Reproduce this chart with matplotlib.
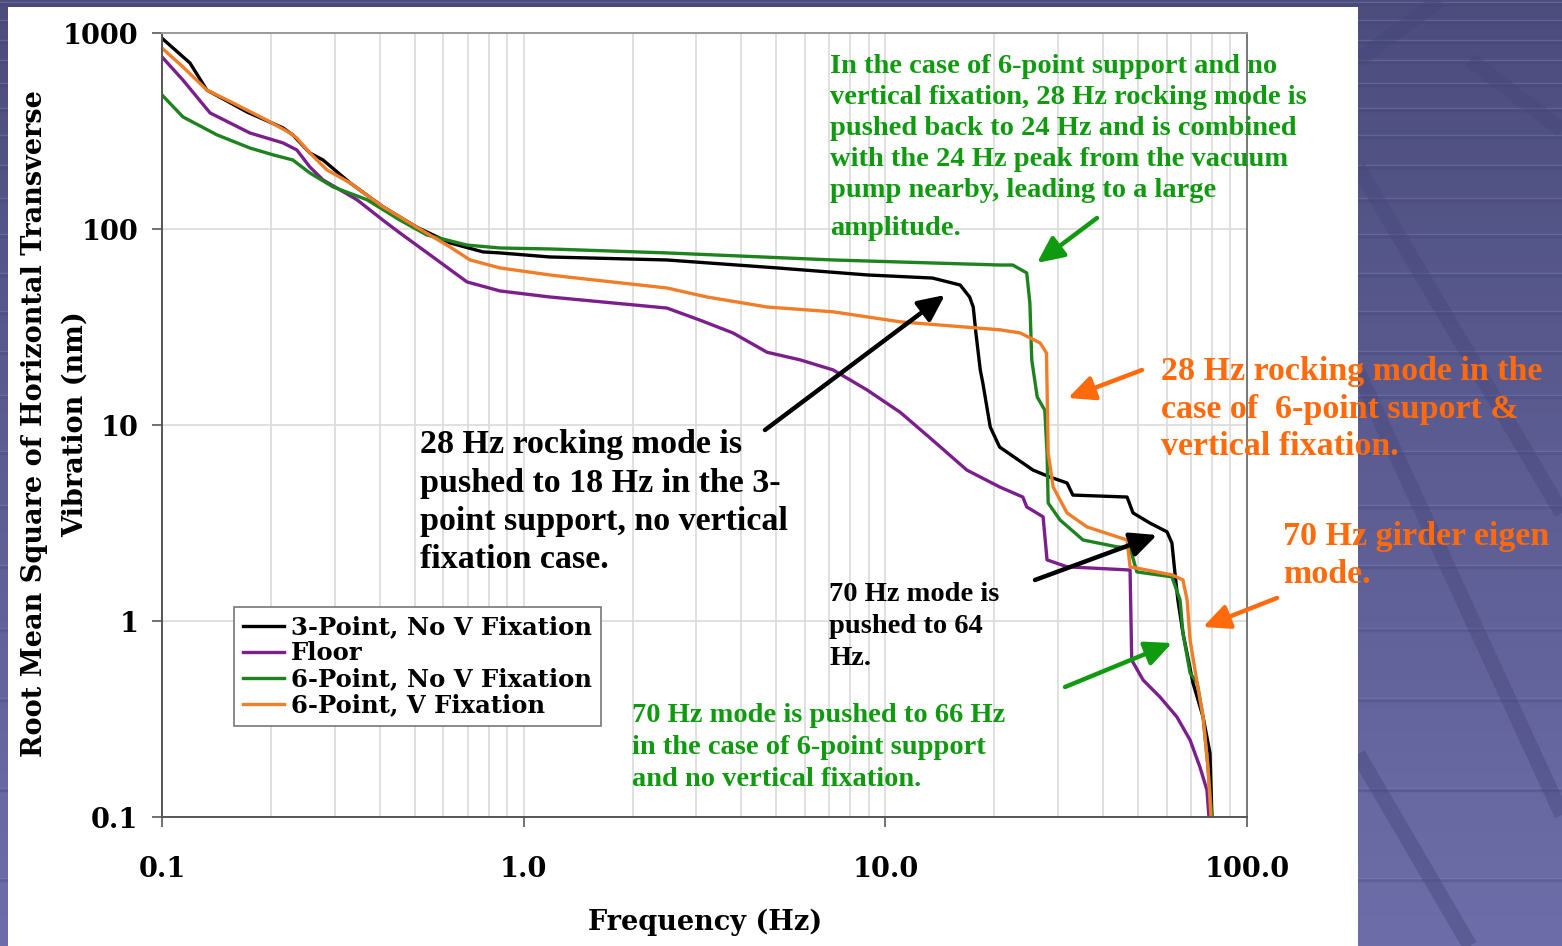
import numpy as np
import matplotlib.pyplot as plt
from matplotlib.colors import LinearSegmentedColormap
from matplotlib.patches import Rectangle, FancyArrowPatch, ArrowStyle
from matplotlib.ticker import FixedLocator, FixedFormatter, LogLocator, NullFormatter

W, H = 1562, 946

# ---- data (frequency in Hz, amplitude in nm) ----
black_f = [0.1, 0.1195, 0.133, 0.172, 0.216, 0.230, 0.2565, 0.2787, 0.331, 0.408,
           0.507, 0.626, 0.772, 0.86, 1.18, 2.49, 5.02, 8.9, 13.5, 16.1,
           17.1, 17.5, 17.8, 18.3, 18.6, 19.5, 20.7, 25.6, 28.5, 31.8,
           33.0, 46.6, 48.4, 53.9, 60.1, 62.0, 63.2, 64.4, 66.5, 70.9,
           75.6, 79.0, 80.0]
black_v = [940, 703, 512, 395, 328, 302, 244, 225, 172, 130,
           102, 84.9, 76.4, 75.5, 72.0, 69.5, 63.3, 58.3, 56.2, 51.8,
           45.0, 40.0, 29.5, 19.1, 16.4, 9.77, 7.72, 5.89, 5.43, 5.06,
           4.39, 4.29, 3.56, 3.16, 2.85, 2.50, 1.76, 1.28, 0.869, 0.483,
           0.324, 0.212, 0.1]

purple_f = [0.1, 0.1143, 0.1358, 0.175, 0.216, 0.236, 0.2565, 0.2787, 0.346, 0.408,
            0.455, 0.561, 0.697, 0.86, 1.18, 2.49, 3.07, 3.79, 4.71, 5.81,
            7.17, 8.9, 11.0, 13.5, 16.8, 20.7, 24.0, 24.6, 27.3, 28.0,
            31.8, 47.5, 48.0, 51.6, 57.5, 64.0, 69.6, 74.1, 77.5, 78.5]
purple_v = [755, 575, 391, 309, 275, 253, 207, 178, 141, 111,
            95.4, 72.0, 53.7, 48.3, 45.0, 39.5, 34.3, 29.5, 23.5, 21.5,
            19.1, 15.1, 11.6, 8.38, 5.89, 4.83, 4.29, 3.82, 3.40, 2.05,
            1.89, 1.82, 0.632, 0.50, 0.409, 0.324, 0.247, 0.180, 0.137, 0.1]

green_f = [0.1, 0.1143, 0.142, 0.175, 0.2027, 0.230, 0.2565, 0.297, 0.369, 0.455,
           0.540, 0.697, 0.86, 1.18, 2.49, 7.17, 20.7, 22.5, 24.6, 25.1,
           25.4, 26.3, 27.6, 28.0, 28.2, 30.4, 35.2, 43.7, 47.5, 49.6,
           62.0, 65.3, 66.5, 69.6, 72.8, 75.6, 78.0, 80.0]
green_v = [483, 373, 302, 259, 239, 225, 193, 164, 141, 111,
           93.2, 82.8, 80.0, 79.1, 75.5, 69.5, 65.5, 65.5, 59.7, 41.9,
           21.5, 13.9, 11.9, 7.19, 4.0, 3.28, 2.59, 2.39, 2.36, 1.78,
           1.68, 1.28, 0.869, 0.543, 0.483, 0.324, 0.180, 0.1]

orange_f = [0.1, 0.1143, 0.133, 0.157, 0.195, 0.226, 0.236, 0.2565, 0.286, 0.331,
            0.408, 0.507, 0.626, 0.711, 0.86, 1.18, 1.32, 2.49, 3.21, 4.71,
            7.17, 11.0, 20.7, 23.6, 26.8, 27.9, 28.1, 28.2, 29.1, 31.8,
            36.1, 46.6, 47.5, 62.0, 66.5, 68.3, 69.6, 72.8, 75.6, 78.0,
            79.5]
orange_v = [838, 671, 512, 440, 359, 309, 291, 244, 200, 172,
            130, 102, 80.9, 69.5, 63.3, 58.3, 56.9, 50.0, 45.0, 40.0,
            37.8, 33.6, 30.6, 29.5, 26.2, 23.3, 10.6, 7.19, 4.83, 3.56,
            3.02, 2.59, 1.89, 1.72, 1.62, 1.28, 0.80, 0.483, 0.324, 0.180,
            0.1]

series_labels = ['3-Point, No V Fixation', 'Floor', '6-Point, No V Fixation', '6-Point, V Fixation']
series_colors = ['#000000', '#7b1f8c', '#1e821e', '#f07d27']

x_ticks = [0.1, 1, 10, 100]
x_tick_labels = ['0.1', '1.0', '10.0', '100.0']
y_ticks = [0.1, 1, 10, 100, 1000]
y_tick_labels = ['0.1', '1', '10', '100', '1000']

TXT_GREEN = '#109a10'
TXT_ORANGE = '#ff6a0d'


def fx(x):
    return x / W


def fy(y):
    return 1 - y / H


fig = plt.figure(figsize=(W / 100, H / 100), dpi=100)

# ---- slide background ----
bg = fig.add_axes([0, 0, 1, 1], zorder=-5)
cmap = LinearSegmentedColormap.from_list('slide', ['#4c4d7d', '#6d6da9'])
bg.imshow(np.linspace(0, 1, 256)[:, None], extent=[0, W, H, 0], aspect='auto', cmap=cmap, zorder=0)
for y in [4, 22, 42, 62, 85, 110, 137, 167, 200, 236, 275, 313, 353, 397, 453, 507, 567, 630, 700, 790, 880]:
    bg.plot([0, W], [y, y], color='#3f3f70', lw=2.5, alpha=0.25, zorder=1)
    bg.plot([0, W], [y - 2, y - 2], color='#8a8ac4', lw=1, alpha=0.35, zorder=1)
for (x0, y0, x1, y1) in [(1358, 167, 1562, 513), (1358, 372, 1562, 815),
                         (1358, 754, 1470, 946), (1440, 0, 1358, 60), (1470, 60, 1562, 130)]:
    bg.plot([x0, x1], [y0, y1], color='#45457a', lw=11, alpha=0.4, solid_capstyle='butt', zorder=1)
bg.add_patch(Rectangle((8, 7), 1350, H, facecolor='white', edgecolor='none', zorder=5))
bg.set_xlim(0, W)
bg.set_ylim(H, 0)
bg.axis('off')

# ---- chart ----
ax = fig.add_axes([fx(162), fy(817), (1247 - 162) / W, (817 - 33) / H])
ax.set_facecolor('white')
for f, v, lab, col in zip([black_f, purple_f, green_f, orange_f],
                          [black_v, purple_v, green_v, orange_v],
                          series_labels, series_colors):
    ax.plot(f, v, color=col, lw=2.4, label=lab)

ax.set_xscale('log')
ax.set_yscale('log')
ax.set_xlim(0.1, 100)
ax.set_ylim(0.1, 1000)

ax.xaxis.set_major_locator(FixedLocator(x_ticks))
ax.xaxis.set_major_formatter(FixedFormatter(x_tick_labels))
ax.xaxis.set_minor_locator(LogLocator(base=10, subs=range(2, 10)))
ax.xaxis.set_minor_formatter(NullFormatter())
ax.yaxis.set_major_locator(FixedLocator(y_ticks))
ax.yaxis.set_major_formatter(FixedFormatter(y_tick_labels))
ax.yaxis.set_minor_locator(FixedLocator([]))

ax.grid(which='both', axis='x', color='#dadada', lw=1.2)
ax.grid(which='major', axis='y', color='#dadada', lw=1.2)
ax.set_axisbelow(True)

ax.tick_params(which='major', direction='out', length=7, width=1.3, color='#666666')
ax.tick_params(which='minor', length=0)
ax.tick_params(axis='x', pad=21)
ax.tick_params(axis='y', pad=10)
for lab in ax.get_xticklabels() + ax.get_yticklabels():
    lab.set_fontfamily('DejaVu Serif')
    lab.set_fontweight('bold')
    lab.set_fontsize(19.5)

ax.spines['left'].set_color('#555555')
ax.spines['bottom'].set_color('#555555')
ax.spines['top'].set_color('#999999')
ax.spines['right'].set_color('#777777')
for s in ax.spines.values():
    s.set_linewidth(1.4)

leg = ax.legend(loc='upper left', bbox_to_anchor=(fx(234), fy(607)), bbox_transform=fig.transFigure,
                prop=dict(family='DejaVu Serif', weight='bold', size=17.5), frameon=True,
                fancybox=False, edgecolor='#777777', framealpha=1, borderaxespad=0,
                borderpad=0.35, labelspacing=0.08, handlelength=1.7, handletextpad=0.3)
leg.get_frame().set_linewidth(1.2)

# axis titles
lab_font = dict(family='DejaVu Serif', weight='bold', size=19.5)
fig.text(fx(705), fy(922), 'Frequency (Hz)', ha='center', va='center', **lab_font)
fig.text(fx(35), fy(424), 'Root Mean Square of Horizontal Transverse', rotation=90,
         ha='center', va='center', **lab_font)
fig.text(fx(75), fy(424), 'Vibration (nm)', rotation=90, ha='center', va='center', **lab_font)


# ---- annotations ----
def note(x, y0, step, lines, color, size):
    for i, line in enumerate(lines):
        fig.text(fx(x), fy(y0 + i * step), line, ha='left', va='baseline', color=color,
                 family='Liberation Serif', weight='bold', fontsize=size)


def arrow(x0, y0, x1, y1, color):
    st = ArrowStyle('-|>', head_length=16, head_width=7.5)
    fig.add_artist(FancyArrowPatch((fx(x0), fy(y0)), (fx(x1), fy(y1)), transform=fig.transFigure,
                                   arrowstyle=st, mutation_scale=1, lw=3.2, color=color,
                                   shrinkA=0, shrinkB=0))


note(830, 73, 31, ['In the case of 6-point support and no',
                   'vertical fixation, 28 Hz rocking mode is',
                   'pushed back to 24 Hz and is combined',
                   'with the 24 Hz peak from the vacuum',
                   'pump nearby, leading to a large'], TXT_GREEN, 20.5)
note(830, 235, 0, ['amplitude.'], TXT_GREEN, 20.5)

note(420, 453, 38.5, ['28 Hz rocking mode is',
                      'pushed to 18 Hz in the 3-',
                      'point support, no vertical',
                      'fixation case.'], 'black', 24.5)

note(1161, 380, 37.5, ['28 Hz rocking mode in the',
                       'case of  6-point suport &',
                       'vertical fixation.'], TXT_ORANGE, 24.5)

note(1283, 545, 37.5, ['70 Hz girder eigen', 'mode.'], TXT_ORANGE, 24.5)

note(829, 601, 32, ['70 Hz mode is', 'pushed to 64', 'Hz.'], 'black', 20.5)

note(632, 722, 32, ['70 Hz mode is pushed to 66 Hz',
                    'in the case of 6-point support',
                    'and no vertical fixation.'], TXT_GREEN, 20.5)

arrow(765, 430, 945, 295, 'black')
arrow(1097, 218, 1037, 263, TXT_GREEN)
arrow(1142, 370, 1068, 398, TXT_ORANGE)
arrow(1035, 580, 1157, 535, 'black')
arrow(1277, 598, 1203, 627, TXT_ORANGE)
arrow(1065, 687, 1172, 643, TXT_GREEN)

fig.savefig('out.png', dpi=100)
